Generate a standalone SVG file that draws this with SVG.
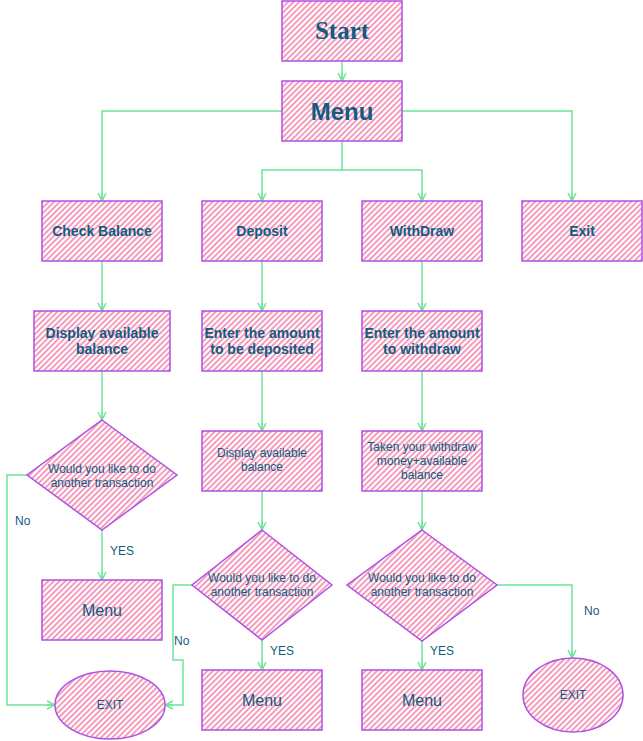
<svg xmlns="http://www.w3.org/2000/svg" width="643" height="741" viewBox="0 0 643 741">
<style>
.n{fill:url(#hatch);stroke:#b04fe6;stroke-width:1.5}
.c{fill:none;stroke:#6fe39a;stroke-width:1.5;marker-end:url(#arr)}
.t{font-family:"Liberation Sans",Arial,sans-serif;fill:#135b80;text-anchor:middle}
.b{font-weight:bold;font-size:14px}
.r{font-size:12px}
.lbl{font-family:"Liberation Sans",Arial,sans-serif;fill:#135b80;font-size:12px}
</style>
<defs>
<pattern id="hatch" patternUnits="userSpaceOnUse" width="4" height="4" patternTransform="rotate(45)">
<rect width="4" height="4" fill="#fff"/>
<line x1="1" y1="0" x2="1" y2="4" stroke="#f293b7" stroke-width="1.8"/>
</pattern>
<marker id="arr" viewBox="0 0 10 10" refX="9" refY="5" markerWidth="10" markerHeight="10" markerUnits="userSpaceOnUse" orient="auto">
<path d="M1,1 L9,5 L1,9 M9,5 L1,5" fill="none" stroke="#6fe39a" stroke-width="1.5"/>
</marker>
</defs>
<g id="connectors">
<path class="c" d="M342,61 V81"/>
<path class="c" d="M282,111 H102 V201"/>
<path class="c" d="M402,111 H572 V201"/>
<path class="c" d="M342,141 V170 H262 V201"/>
<path class="c" d="M342,170 H422 V201"/>
<path class="c" d="M102,261 V311"/>
<path class="c" d="M262,261 V311"/>
<path class="c" d="M422,261 V311"/>
<path class="c" d="M102,371 V420"/>
<path class="c" d="M262,371 V431"/>
<path class="c" d="M422,371 V431"/>
<path class="c" d="M262,491 V530"/>
<path class="c" d="M422,491 V530"/>
<path class="c" d="M102,530 V580"/>
<path class="c" d="M262,640 V670"/>
<path class="c" d="M422,641 V670"/>
<path class="c" d="M27,475 H7 V705 H55"/>
<path class="c" d="M192,585 H173 V660 H183 V705 H165"/>
<path class="c" d="M497,585 H572 V658"/>
<text class="lbl" x="15" y="525">No</text>
<text class="lbl" x="110" y="555">YES</text>
<text class="lbl" x="174" y="645">No</text>
<text class="lbl" x="270" y="655">YES</text>
<text class="lbl" x="430" y="655">YES</text>
<text class="lbl" x="584" y="615">No</text>
</g>
<g id="start"><rect class="n" x="282" y="1" width="120" height="60"/><text class="t" x="342" y="39" style="font-family:'Liberation Serif',serif;font-weight:bold;font-size:25px">Start</text></g>
<g id="menu"><rect class="n" x="282" y="81" width="120" height="60"/><text class="t" x="342" y="120" style="font-weight:bold;font-size:24px">Menu</text></g>
<g id="check"><rect class="n" x="42" y="201" width="120" height="60"/><text class="t b" x="102" y="236">Check Balance</text></g>
<g id="deposit"><rect class="n" x="202" y="201" width="120" height="60"/><text class="t b" x="262" y="236">Deposit</text></g>
<g id="withdraw"><rect class="n" x="362" y="201" width="120" height="60"/><text class="t b" x="422" y="236">WithDraw</text></g>
<g id="exit"><rect class="n" x="522" y="201" width="120" height="60"/><text class="t b" x="582" y="236">Exit</text></g>
<g id="display1"><rect class="n" x="34" y="311" width="136" height="60"/><text class="t b" x="102" y="338">Display available</text><text class="t b" x="102" y="354">balance</text></g>
<g id="enterdep"><rect class="n" x="202" y="311" width="120" height="60"/><text class="t b" x="262" y="338">Enter the amount</text><text class="t b" x="262" y="354">to be deposited</text></g>
<g id="enterwd"><rect class="n" x="362" y="311" width="120" height="60"/><text class="t b" x="422" y="338">Enter the amount</text><text class="t b" x="422" y="354">to withdraw</text></g>
<g id="dia1"><path class="n" d="M102,420 L177,475 L102,530 L27,475 Z"/><text class="t r" x="102" y="473">Would you like to do</text><text class="t r" x="102" y="487">another transaction</text></g>
<g id="display2"><rect class="n" x="202" y="431" width="120" height="60"/><text class="t r" x="262" y="457">Display available</text><text class="t r" x="262" y="471">balance</text></g>
<g id="taken"><rect class="n" x="362" y="431" width="120" height="60"/><text class="t r" x="422" y="451">Taken your withdraw</text><text class="t r" x="422" y="465">money+available</text><text class="t r" x="422" y="479">balance</text></g>
<g id="dia2"><path class="n" d="M262,530 L332,585 L262,640 L192,585 Z"/><text class="t r" x="262" y="582">Would you like to do</text><text class="t r" x="262" y="596">another transaction</text></g>
<g id="dia3"><path class="n" d="M422,530 L497,585 L422,641 L347,585 Z"/><text class="t r" x="422" y="582">Would you like to do</text><text class="t r" x="422" y="596">another transaction</text></g>
<g id="menu1"><rect class="n" x="42" y="580" width="120" height="60"/><text class="t" x="102" y="616" style="font-size:16px">Menu</text></g>
<g id="menu2"><rect class="n" x="202" y="670" width="120" height="60"/><text class="t" x="262" y="706" style="font-size:16px">Menu</text></g>
<g id="menu3"><rect class="n" x="362" y="670" width="120" height="60"/><text class="t" x="422" y="706" style="font-size:16px">Menu</text></g>
<g id="exit1"><ellipse class="n" cx="110" cy="705" rx="55" ry="34"/><text class="t r" x="110" y="709">EXIT</text></g>
<g id="exit2"><ellipse class="n" cx="573" cy="695" rx="50" ry="37"/><text class="t r" x="573" y="699">EXIT</text></g>
</svg>
